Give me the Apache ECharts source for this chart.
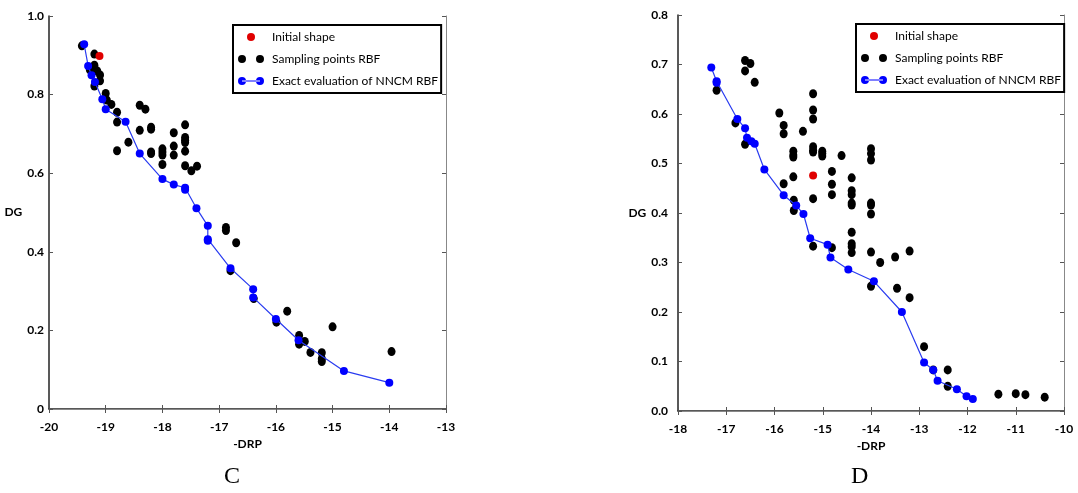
<!DOCTYPE html>
<html>
<head>
<meta charset="utf-8">
<script src="https://cdn.jsdelivr.net/npm/echarts@6/dist/echarts.min.js"></script>
<style>
html,body{margin:0;padding:0;background:#fff;}
#c{width:1078px;height:493px;}
</style>
</head>
<body>
<div id="c"></div>
<script>
// ---------- Panel C data ----------
const cSampleX = [-19.42,-19.2,-19.2,-19.2,-19.28,-19.1,-19.1,-19.2,-19.15,-19.0,-18.98,-18.9,-18.8,-18.8,-18.8,-18.6,-18.4,-18.3,-18.4,-18.2,-18.2,-18.2,-18.2,-18.0,-18.0,-18.0,-18.0,-17.8,-17.8,-17.8,-17.6,-17.6,-17.6,-17.6,-17.6,-17.6,-17.49,-17.39,-16.88,-16.88,-16.7,-16.8,-16.39,-15.99,-15.8,-15.59,-15.59,-15.49,-15.39,-15.19,-15.19,-15.19,-15.0,-13.96];
const cSampleY = [0.924,0.903,0.875,0.867,0.863,0.85,0.835,0.822,0.86,0.803,0.786,0.775,0.755,0.73,0.657,0.679,0.773,0.763,0.709,0.717,0.712,0.654,0.65,0.662,0.654,0.646,0.622,0.703,0.669,0.646,0.723,0.691,0.684,0.678,0.656,0.619,0.606,0.618,0.462,0.454,0.423,0.352,0.281,0.221,0.249,0.187,0.165,0.172,0.144,0.143,0.128,0.121,0.209,0.146];
const cExactX = [-19.38,-19.31,-19.25,-19.19,-19.06,-19.0,-18.65,-18.4,-18.0,-17.8,-17.6,-17.6,-17.4,-17.2,-17.2,-17.2,-16.8,-16.4,-16.4,-16.0,-15.6,-14.8,-14.0];
const cExactY = [0.928,0.873,0.849,0.832,0.788,0.763,0.731,0.65,0.585,0.571,0.563,0.558,0.511,0.466,0.432,0.428,0.358,0.305,0.284,0.229,0.175,0.097,0.067];
const cInitialX = [-19.11];
const cInitialY = [0.898];
const cXTicks = [-20,-19,-18,-17,-16,-15,-14,-13];
const cYTicks = ['0','0.2','0.4','0.6','0.8','1.0'];

// ---------- Panel D data ----------
const dSampleX = [-17.2,-16.61,-16.61,-16.5,-16.41,-16.81,-16.61,-15.9,-15.81,-15.81,-15.61,-15.61,-15.61,-15.61,-15.81,-15.41,-15.2,-15.2,-15.2,-15.2,-15.2,-15.2,-15.2,-15.01,-15.01,-15.01,-14.81,-14.81,-14.81,-14.61,-14.4,-14.4,-14.4,-14.4,-14.4,-14.0,-14.0,-14.0,-14.0,-14.0,-14.0,-15.6,-15.6,-15.2,-14.81,-14.4,-14.4,-14.4,-14.4,-14.0,-13.81,-13.5,-13.2,-14.0,-13.46,-13.2,-12.9,-12.71,-12.41,-12.41,-11.36,-11.0,-10.8,-10.4];
const dSampleY = [0.648,0.708,0.687,0.702,0.664,0.582,0.539,0.602,0.577,0.56,0.525,0.517,0.513,0.473,0.459,0.565,0.641,0.608,0.59,0.534,0.527,0.523,0.429,0.525,0.52,0.515,0.484,0.458,0.437,0.516,0.471,0.445,0.437,0.42,0.416,0.53,0.52,0.507,0.42,0.416,0.398,0.426,0.405,0.333,0.33,0.361,0.338,0.332,0.32,0.321,0.3,0.311,0.323,0.252,0.248,0.229,0.13,0.083,0.083,0.05,0.034,0.035,0.033,0.028];
const dExactX = [-17.31,-17.2,-17.2,-16.77,-16.61,-16.57,-16.48,-16.41,-16.21,-15.81,-15.55,-15.4,-15.26,-14.9,-14.84,-14.47,-13.94,-13.36,-12.9,-12.71,-12.62,-12.22,-12.02,-11.89];
const dExactY = [0.694,0.666,0.663,0.59,0.571,0.552,0.545,0.54,0.488,0.436,0.415,0.398,0.349,0.336,0.31,0.286,0.262,0.2,0.098,0.083,0.061,0.044,0.03,0.024];
const dInitialX = [-15.2];
const dInitialY = [0.476];
const dXTicks = [-18,-17,-16,-15,-14,-13,-12,-11,-10];
const dYTicks = ['0.0','0.1','0.2','0.3','0.4','0.5','0.6','0.7','0.8'];

const names = ['Initial shape','Sampling points RBF','Exact evaluation of NNCM RBF'];
const captions = ['C','D'];

const zip = (xs, ys) => xs.map((x, i) => [x, ys[i]]);

const FONT = 'Lato, "Open Sans", sans-serif';
const twoDots = 'path://M0,4a4,4 0 1,0 8,0a4,4 0 1,0 -8,0zM18,4a4,4 0 1,0 8,0a4,4 0 1,0 -8,0z';
const dotsLine = 'path://M0,4a4,4 0 1,0 8,0a4,4 0 1,0 -8,0zM18,4a4,4 0 1,0 8,0a4,4 0 1,0 -8,0zM4,3.4h18v1.2h-18z';

function legendFor(left, top) {
  return {
    left: left, top: top, orient: 'vertical',
    itemWidth: 26, itemHeight: 8, itemGap: 10,
    padding: [6, 3, 6, 5],
    borderColor: '#000', borderWidth: 2, backgroundColor: '#fff',
    selectedMode: false,
    textStyle: { fontFamily: FONT, fontSize: 12, color: '#000', padding: [0,0,0,3] },
    data: [
      { name: names[0], icon: 'circle', itemStyle: { color: '#e00000', opacity: 1 } },
      { name: names[1], icon: twoDots, itemStyle: { color: '#000', opacity: 1 } },
      { name: names[2], icon: dotsLine, itemStyle: { color: '#0000ff', opacity: 1 } }
    ]
  };
}

const tickLabel = { fontFamily: FONT, fontSize: 12, fontWeight: 'bold', color: '#000' };
const dark = { show: true, lineStyle: { color: '#222', width: 1.5 } };
const light = { show: true, lineStyle: { color: '#888', width: 1 } };
const tickIn = { show: true, inside: true, length: 4, lineStyle: { color: '#555' } };

function xAxes(gi, min, max) {
  return [
    { type: 'value', gridIndex: gi, min: min, max: max, interval: 1, position: 'bottom',
      axisLine: dark, axisTick: tickIn, splitLine: { show: false },
      axisLabel: Object.assign({ margin: 12 }, tickLabel),
      name: '-DRP', nameLocation: 'middle', nameGap: 29,
      nameTextStyle: { fontFamily: FONT, fontSize: 12, fontWeight: 'bold', color: '#000' } },
    { type: 'value', gridIndex: gi, min: min, max: max, interval: 1, position: 'top',
      axisLine: light, axisTick: tickIn, splitLine: { show: false }, axisLabel: { show: false } }
  ];
}
function yAxes(gi, max, interval, fmt, margin, nameGap) {
  return [
    { type: 'value', gridIndex: gi, min: 0, max: max, interval: interval, position: 'left',
      axisLine: dark, axisTick: tickIn, splitLine: { show: false },
      axisLabel: Object.assign({ margin: margin, formatter: fmt }, tickLabel),
      name: 'DG', nameLocation: 'middle', nameRotate: 0, nameGap: nameGap,
      nameTextStyle: { fontFamily: FONT, fontSize: 12, fontWeight: 'bold', color: '#000' } },
    { type: 'value', gridIndex: gi, min: 0, max: max, interval: interval, position: 'right',
      axisLine: light, axisTick: tickIn, splitLine: { show: false }, axisLabel: { show: false } }
  ];
}

function seriesFor(gi, sx, sy, ex, ey, ix, iy) {
  const xi = gi * 2, yi = gi * 2;
  return [
    { type: 'scatter', name: names[1], xAxisIndex: xi, yAxisIndex: yi, data: zip(sx, sy),
      symbol: 'circle', symbolSize: [8, 9], itemStyle: { color: '#000', opacity: 1 }, z: 2 },
    { type: 'line', name: names[2], xAxisIndex: xi, yAxisIndex: yi, data: zip(ex, ey),
      symbol: 'circle', symbolSize: 8, showAllSymbol: true,
      itemStyle: { color: '#0000ff', opacity: 1 }, lineStyle: { color: '#2a3cf0', width: 1.2 }, z: 3 },
    { type: 'scatter', name: names[0], xAxisIndex: xi, yAxisIndex: yi, data: zip(ix, iy),
      symbol: 'circle', symbolSize: 8, itemStyle: { color: '#e00000', opacity: 1 }, z: 4 }
  ];
}

const cYFmt = v => cYTicks[Math.round(v / 0.2)];
const dYFmt = v => dYTicks[Math.round(v / 0.1)];

const chart = echarts.init(document.getElementById('c'), null, { renderer: 'canvas' });
chart.setOption({
  animation: false,
  backgroundColor: '#fff',
  grid: [
    { left: 49, top: 16, width: 397, height: 393 },
    { left: 678, top: 15, width: 386, height: 396 }
  ],
  xAxis: xAxes(0, cXTicks[0], cXTicks[cXTicks.length - 1]).concat(xAxes(1, dXTicks[0], dXTicks[dXTicks.length - 1])),
  yAxis: yAxes(0, 1.0, 0.2, cYFmt, 5, 23).concat(yAxes(1, 0.8, 0.1, dYFmt, 10, 31)),
  legend: [legendFor(233, 25), legendFor(856, 24)],
  series: seriesFor(0, cSampleX, cSampleY, cExactX, cExactY, cInitialX, cInitialY)
    .concat(seriesFor(1, dSampleX, dSampleY, dExactX, dExactY, dInitialX, dInitialY)),
  graphic: [
    { type: 'text', left: 224, top: 465, style: { text: captions[0], font: '24px "Liberation Serif", serif', fill: '#000' } },
    { type: 'text', left: 851, top: 465, style: { text: captions[1], font: '24px "Liberation Serif", serif', fill: '#000' } }
  ]
});
</script>
</body>
</html>
